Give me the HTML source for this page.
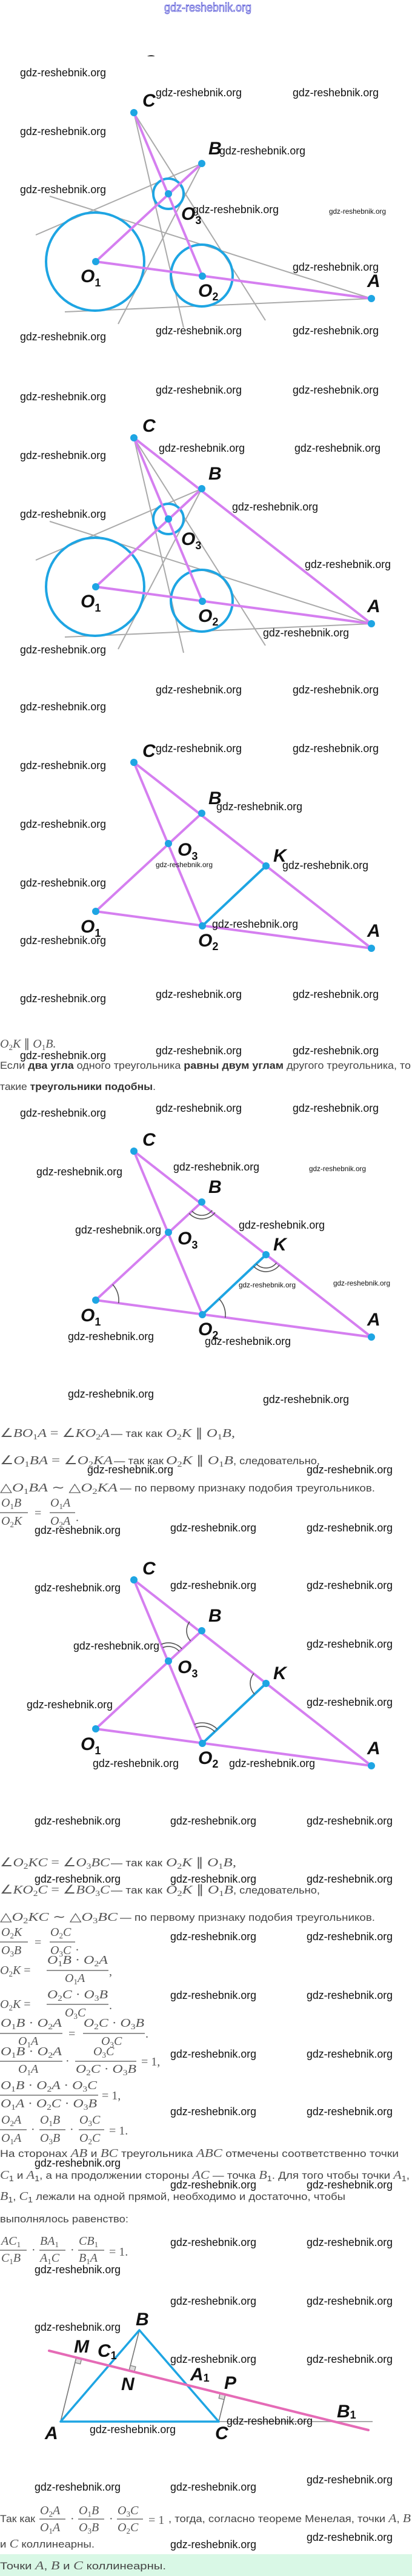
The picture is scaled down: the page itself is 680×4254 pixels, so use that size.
<!DOCTYPE html>
<html><head><meta charset="utf-8"><style>
html,body{margin:0;padding:0;background:#fff}
svg{display:block}
.w{font-family:"Liberation Sans Narrow","Liberation Sans",sans-serif;font-size:18px;fill:#111}
.ws{font-family:"Liberation Sans Narrow","Liberation Sans",sans-serif;font-size:12px;fill:#111}
.lb{font-family:"Liberation Sans Narrow","Liberation Sans",sans-serif;font-size:30px;font-weight:bold;font-style:italic;fill:#111}
.ls{font-size:18px;font-style:normal}
.m{font-family:"Liberation Serif",serif;font-style:italic;font-size:20px;fill:#555}
.mm{font-family:"Liberation Serif",serif;font-style:italic;font-size:20px;fill:#555}
.s{font-style:normal;font-size:13px}
.u{font-style:normal}
.t{font-family:"Liberation Sans",sans-serif;font-size:17px;fill:#444;font-style:normal}
.bd{font-weight:bold;fill:#333}
.g{stroke:#aaa;stroke-width:2;fill:none}
.p{stroke:#d57ff0;stroke-width:4;fill:none;stroke-linecap:round}
.c{stroke:#1ea5e3;stroke-width:4;fill:none}
.d{fill:#1ea5e3}
.a{stroke:#555;stroke-width:1.6;fill:none}
.bar{stroke:#555;stroke-width:1.2}
</style></head><body>
<svg width="680" height="4254" viewBox="0 0 680 4254" xmlns="http://www.w3.org/2000/svg">
<defs>
<clipPath id="cp"><rect x="0" y="0" width="680" height="93"/></clipPath>
<g id="pts">
<circle class="d" cx="221" cy="186" r="6"/><circle class="d" cx="333" cy="270" r="6"/><circle class="d" cx="278" cy="320" r="6"/>
<circle class="d" cx="158" cy="432" r="6"/><circle class="d" cx="334" cy="456" r="6"/><circle class="d" cx="613" cy="493" r="6"/>
</g>
<g id="gray">
<line class="g" x1="59" y1="388" x2="333" y2="270"/>
<line class="g" x1="82" y1="324" x2="613" y2="493"/>
<line class="g" x1="107" y1="515" x2="613" y2="493"/>
<line class="g" x1="221" y1="186" x2="303" y2="541"/>
<line class="g" x1="221" y1="186" x2="438" y2="529"/>
<line class="g" x1="333" y1="270" x2="195" y2="535"/>
<circle class="c" cx="157" cy="432" r="81"/>
<circle class="c" cx="333" cy="455" r="51"/>
<circle class="c" cx="278" cy="320" r="25"/>
<line class="p" x1="158" y1="432" x2="333" y2="270"/>
<line class="p" x1="221" y1="186" x2="334" y2="456"/>
<line class="p" x1="158" y1="432" x2="613" y2="493"/>
</g>
<g id="lab1">
<text class="lb" x="235" y="176">C</text>
<text class="lb" x="344" y="255">B</text>
<text class="lb" x="299" y="363">O<tspan class="ls" dy="7">3</tspan></text>
<text class="lb" x="133" y="466">O<tspan class="ls" dy="7">1</tspan></text>
<text class="lb" x="327" y="490">O<tspan class="ls" dy="6">2</tspan></text>
<text class="lb" x="606" y="474">A</text>
</g>
<g id="tri">
<line class="p" x1="221" y1="186" x2="613" y2="493"/>
<line class="p" x1="158" y1="432" x2="333" y2="270"/>
<line class="p" x1="221" y1="186" x2="334" y2="456"/>
<line class="p" x1="158" y1="432" x2="613" y2="493"/>
<line class="c" x1="334" y1="456" x2="439" y2="357"/>
<use href="#pts"/>
<circle class="d" cx="439" cy="357" r="6"/>
<text class="lb" x="235" y="177">C</text>
<text class="lb" x="344" y="255">B</text>
<text class="lb" x="293" y="340">O<tspan class="ls" dy="7">3</tspan></text>
<text class="lb" x="451" y="350">K</text>
<text class="lb" x="133" y="467">O<tspan class="ls" dy="7">1</tspan></text>
<text class="lb" x="327" y="490">O<tspan class="ls" dy="6">2</tspan></text>
<text class="lb" x="606" y="474">A</text>
</g>
</defs>
<rect width="680" height="4254" fill="#fff"/>

<text x="271" y="19" font-family="Liberation Sans Narrow, Liberation Sans, sans-serif" font-size="20" fill="#fff" stroke="#3b3bd0" stroke-width="0.8" textLength="144" lengthAdjust="spacingAndGlyphs">gdz-reshebnik.org</text>
<text class="lb" x="236" y="112" clip-path="url(#cp)">C</text>

<!-- diagram 1 -->
<use href="#gray"/><use href="#pts"/><use href="#lab1"/>
<!-- diagram 2 -->
<g transform="translate(0,537)">
<use href="#gray"/>
<line class="p" x1="221" y1="186" x2="613" y2="493"/>
<use href="#pts"/><use href="#lab1"/>
</g>
<!-- diagram 3 -->
<g transform="translate(0,1073)"><use href="#tri"/></g>
<!-- diagram 4 -->
<g transform="translate(0,1715)"><use href="#tri"/>
<path class="a" d="M350.2,283.7 A22,22 0 0 1 316.7,284.8"/>
<path class="a" d="M354.9,287.4 A28,28 0 0 1 312.3,288.8"/>
<path class="a" d="M456.3,370.5 A22,22 0 0 1 423,372.1"/>
<path class="a" d="M461.1,374.2 A28,28 0 0 1 418.6,376.2"/>
<path class="a" d="M185.9,406.2 A38,38 0 0 1 195.7,437"/>
<path class="a" d="M361.7,429.9 A38,38 0 0 1 371.7,461"/>
</g>
<!-- diagram 5 -->
<g transform="translate(0,2423)"><use href="#tri"/>
<path class="a" d="M314.5,286.8 A25,25 0 0 1 313,255"/>
<path class="a" d="M268.6,297.9 A24,24 0 0 1 295.8,303.8"/>
<path class="a" d="M266.3,292.4 A30,30 0 0 1 300.2,299.8"/>
<path class="a" d="M420.1,374.8 A26,26 0 0 1 418.9,340.5"/>
<path class="a" d="M323.3,430.1 A28,28 0 0 1 354.4,436.8"/>
<path class="a" d="M321,424.6 A34,34 0 0 1 358.7,432.7"/>
</g>

<!-- text block 1 -->
<text class="m" x="0" y="1730" font-size="22">O<tspan class="s" dy="4">2</tspan><tspan dy="-4">K </tspan><tspan class="u">∥ </tspan>O<tspan class="s" dy="4">1</tspan><tspan dy="-4">B.</tspan></text>
<text class="t" x="0" y="1765" textLength="678" lengthAdjust="spacingAndGlyphs">Если <tspan class="bd">два угла</tspan> одного треугольника <tspan class="bd">равны двум углам</tspan> другого треугольника, то</text>
<text class="t" x="0" y="1800" textLength="257" lengthAdjust="spacingAndGlyphs">такие <tspan class="bd">треугольники подобны</tspan>.</text>

<!-- text block 2 -->
<text class="m" x="0" y="2373" textLength="181" lengthAdjust="spacingAndGlyphs"><tspan class="u">∠</tspan>BO<tspan class="s" dy="4">1</tspan><tspan dy="-4">A </tspan><tspan class="u">= ∠</tspan>KO<tspan class="s" dy="4">2</tspan><tspan dy="-4">A</tspan></text>
<text class="t" x="183" y="2373" textLength="85" lengthAdjust="spacingAndGlyphs">— так как</text>
<text class="m" x="274" y="2373" textLength="114" lengthAdjust="spacingAndGlyphs">O<tspan class="s" dy="4">2</tspan><tspan dy="-4">K </tspan><tspan class="u">∥ </tspan>O<tspan class="s" dy="4">1</tspan><tspan dy="-4">B,</tspan></text>

<text class="m" x="0" y="2418" textLength="186" lengthAdjust="spacingAndGlyphs"><tspan class="u">∠</tspan>O<tspan class="s" dy="4">1</tspan><tspan dy="-4">BA </tspan><tspan class="u">= ∠</tspan>O<tspan class="s" dy="4">2</tspan><tspan dy="-4">KA</tspan></text>
<text class="t" x="188" y="2418" textLength="82" lengthAdjust="spacingAndGlyphs">— так как</text>
<text class="m" x="274" y="2418" textLength="111" lengthAdjust="spacingAndGlyphs">O<tspan class="s" dy="4">2</tspan><tspan dy="-4">K </tspan><tspan class="u">∥ </tspan>O<tspan class="s" dy="4">1</tspan><tspan dy="-4">B</tspan></text>
<text class="t" x="385" y="2418" textLength="143" lengthAdjust="spacingAndGlyphs">, следовательно,</text>

<text class="m" x="0" y="2463" textLength="194" lengthAdjust="spacingAndGlyphs"><tspan class="u">△</tspan>O<tspan class="s" dy="4">1</tspan><tspan dy="-4">BA  </tspan><tspan class="u">∼ △</tspan>O<tspan class="s" dy="4">2</tspan><tspan dy="-4">KA</tspan></text>
<text class="t" x="198" y="2463" textLength="421" lengthAdjust="spacingAndGlyphs">— по первому признаку подобия треугольников.</text>

<text class="m" x="2" y="2488">O<tspan class="s" dy="4">1</tspan><tspan dy="-4">B</tspan></text>
<line class="bar" x1="0" y1="2498" x2="46" y2="2498"/>
<text class="m" x="2" y="2518">O<tspan class="s" dy="4">2</tspan><tspan dy="-4">K</tspan></text>
<text class="m u" x="57" y="2505">=</text>
<text class="m" x="83" y="2488">O<tspan class="s" dy="4">1</tspan><tspan dy="-4">A</tspan></text>
<line class="bar" x1="82" y1="2498" x2="124" y2="2498"/>
<text class="m" x="83" y="2518">O<tspan class="s" dy="4">2</tspan><tspan dy="-4">A</tspan></text>
<text class="m u" x="125" y="2512">.</text>

<!-- text block 3 -->
<text class="m" x="0" y="3082" textLength="181" lengthAdjust="spacingAndGlyphs"><tspan class="u">∠</tspan>O<tspan class="s" dy="4">2</tspan><tspan dy="-4">KC </tspan><tspan class="u">= ∠</tspan>O<tspan class="s" dy="4">3</tspan><tspan dy="-4">BC</tspan></text>
<text class="t" x="183" y="3082" textLength="85" lengthAdjust="spacingAndGlyphs">— так как</text>
<text class="m" x="274" y="3082" textLength="116" lengthAdjust="spacingAndGlyphs">O<tspan class="s" dy="4">2</tspan><tspan dy="-4">K </tspan><tspan class="u">∥ </tspan>O<tspan class="s" dy="4">1</tspan><tspan dy="-4">B,</tspan></text>

<text class="m" x="0" y="3127" textLength="181" lengthAdjust="spacingAndGlyphs"><tspan class="u">∠</tspan>KO<tspan class="s" dy="4">2</tspan><tspan dy="-4">C </tspan><tspan class="u">= ∠</tspan>BO<tspan class="s" dy="4">3</tspan><tspan dy="-4">C</tspan></text>
<text class="t" x="183" y="3127" textLength="85" lengthAdjust="spacingAndGlyphs">— так как</text>
<text class="m" x="274" y="3127" textLength="111" lengthAdjust="spacingAndGlyphs">O<tspan class="s" dy="4">2</tspan><tspan dy="-4">K </tspan><tspan class="u">∥ </tspan>O<tspan class="s" dy="4">1</tspan><tspan dy="-4">B</tspan></text>
<text class="t" x="385" y="3127" textLength="143" lengthAdjust="spacingAndGlyphs">, следовательно,</text>

<text class="m" x="0" y="3172" textLength="194" lengthAdjust="spacingAndGlyphs"><tspan class="u">△</tspan>O<tspan class="s" dy="4">2</tspan><tspan dy="-4">KC  </tspan><tspan class="u">∼ △</tspan>O<tspan class="s" dy="4">3</tspan><tspan dy="-4">BC</tspan></text>
<text class="t" x="198" y="3172" textLength="421" lengthAdjust="spacingAndGlyphs">— по первому признаку подобия треугольников.</text>

<text class="m" x="2" y="3197">O<tspan class="s" dy="4">2</tspan><tspan dy="-4">K</tspan></text>
<line class="bar" x1="0" y1="3207" x2="46" y2="3207"/>
<text class="m" x="2" y="3227">O<tspan class="s" dy="4">3</tspan><tspan dy="-4">B</tspan></text>
<text class="m u" x="57" y="3214">=</text>
<text class="m" x="83" y="3197">O<tspan class="s" dy="4">2</tspan><tspan dy="-4">C</tspan></text>
<line class="bar" x1="82" y1="3207" x2="124" y2="3207"/>
<text class="m" x="83" y="3227">O<tspan class="s" dy="4">3</tspan><tspan dy="-4">C</tspan></text>
<text class="m u" x="125" y="3221">.</text>

<text class="m" x="0" y="3260">O<tspan class="s" dy="4">2</tspan><tspan dy="-4">K </tspan><tspan class="u">=</tspan></text>
<text class="m" x="78" y="3243" textLength="100" lengthAdjust="spacingAndGlyphs">O<tspan class="s" dy="4">1</tspan><tspan dy="-4">B </tspan><tspan class="u">· </tspan>O<tspan class="s" dy="4">2</tspan><tspan dy="-4">A</tspan></text>
<line class="bar" x1="77" y1="3254" x2="179" y2="3254"/>
<text class="m" x="107" y="3273">O<tspan class="s" dy="4">1</tspan><tspan dy="-4">A</tspan></text>
<text class="m u" x="180" y="3262">,</text>

<text class="m" x="0" y="3316">O<tspan class="s" dy="4">2</tspan><tspan dy="-4">K </tspan><tspan class="u">=</tspan></text>
<text class="m" x="78" y="3300" textLength="100" lengthAdjust="spacingAndGlyphs">O<tspan class="s" dy="4">2</tspan><tspan dy="-4">C </tspan><tspan class="u">· </tspan>O<tspan class="s" dy="4">3</tspan><tspan dy="-4">B</tspan></text>
<line class="bar" x1="77" y1="3310" x2="179" y2="3310"/>
<text class="m" x="107" y="3330">O<tspan class="s" dy="4">3</tspan><tspan dy="-4">C</tspan></text>
<text class="m u" x="180" y="3318">.</text>

<text class="m" x="1" y="3347" textLength="101" lengthAdjust="spacingAndGlyphs">O<tspan class="s" dy="4">1</tspan><tspan dy="-4">B </tspan><tspan class="u">· </tspan>O<tspan class="s" dy="4">2</tspan><tspan dy="-4">A</tspan></text>
<line class="bar" x1="0" y1="3358" x2="103" y2="3358"/>
<text class="m" x="30" y="3377">O<tspan class="s" dy="4">1</tspan><tspan dy="-4">A</tspan></text>
<text class="m u" x="113" y="3365">=</text>
<text class="m" x="138" y="3347" textLength="100" lengthAdjust="spacingAndGlyphs">O<tspan class="s" dy="4">2</tspan><tspan dy="-4">C </tspan><tspan class="u">· </tspan>O<tspan class="s" dy="4">3</tspan><tspan dy="-4">B</tspan></text>
<line class="bar" x1="137" y1="3358" x2="239" y2="3358"/>
<text class="m" x="167" y="3377">O<tspan class="s" dy="4">3</tspan><tspan dy="-4">C</tspan></text>
<text class="m u" x="240" y="3365">.</text>

<text class="m" x="1" y="3394" textLength="101" lengthAdjust="spacingAndGlyphs">O<tspan class="s" dy="4">1</tspan><tspan dy="-4">B </tspan><tspan class="u">· </tspan>O<tspan class="s" dy="4">2</tspan><tspan dy="-4">A</tspan></text>
<line class="bar" x1="0" y1="3404" x2="103" y2="3404"/>
<text class="m" x="30" y="3423">O<tspan class="s" dy="4">1</tspan><tspan dy="-4">A</tspan></text>
<text class="m u" x="108" y="3410">·</text>
<text class="m" x="154" y="3394">O<tspan class="s" dy="4">3</tspan><tspan dy="-4">C</tspan></text>
<line class="bar" x1="124" y1="3404" x2="225" y2="3404"/>
<text class="m" x="125" y="3423" textLength="100" lengthAdjust="spacingAndGlyphs">O<tspan class="s" dy="4">2</tspan><tspan dy="-4">C </tspan><tspan class="u">· </tspan>O<tspan class="s" dy="4">3</tspan><tspan dy="-4">B</tspan></text>
<text class="m u" x="233" y="3411">= 1,</text>

<text class="m" x="1" y="3450" textLength="159" lengthAdjust="spacingAndGlyphs">O<tspan class="s" dy="4">1</tspan><tspan dy="-4">B </tspan><tspan class="u">· </tspan>O<tspan class="s" dy="4">2</tspan><tspan dy="-4">A </tspan><tspan class="u">· </tspan>O<tspan class="s" dy="4">3</tspan><tspan dy="-4">C</tspan></text>
<line class="bar" x1="0" y1="3460" x2="162" y2="3460"/>
<text class="m" x="1" y="3480" textLength="159" lengthAdjust="spacingAndGlyphs">O<tspan class="s" dy="4">1</tspan><tspan dy="-4">A </tspan><tspan class="u">· </tspan>O<tspan class="s" dy="4">2</tspan><tspan dy="-4">C </tspan><tspan class="u">· </tspan>O<tspan class="s" dy="4">3</tspan><tspan dy="-4">B</tspan></text>
<text class="m u" x="168" y="3467">= 1,</text>

<text class="m" x="2" y="3507">O<tspan class="s" dy="4">2</tspan><tspan dy="-4">A</tspan></text>
<line class="bar" x1="0" y1="3517" x2="44" y2="3517"/>
<text class="m" x="2" y="3537">O<tspan class="s" dy="4">1</tspan><tspan dy="-4">A</tspan></text>
<text class="m u" x="51" y="3523">·</text>
<text class="m" x="66" y="3507">O<tspan class="s" dy="4">1</tspan><tspan dy="-4">B</tspan></text>
<line class="bar" x1="65" y1="3517" x2="108" y2="3517"/>
<text class="m" x="66" y="3537">O<tspan class="s" dy="4">3</tspan><tspan dy="-4">B</tspan></text>
<text class="m u" x="115" y="3523">·</text>
<text class="m" x="131" y="3507">O<tspan class="s" dy="4">3</tspan><tspan dy="-4">C</tspan></text>
<line class="bar" x1="130" y1="3517" x2="172" y2="3517"/>
<text class="m" x="131" y="3537">O<tspan class="s" dy="4">2</tspan><tspan dy="-4">C</tspan></text>
<text class="m u" x="180" y="3525">= 1.</text>

<!-- Menelaus text -->
<text class="t" x="0" y="3562" textLength="658" lengthAdjust="spacingAndGlyphs">На сторонах <tspan class="mm">AB</tspan> и <tspan class="mm">BC</tspan> треугольника <tspan class="mm">ABC</tspan> отмечены соответственно точки</text>
<text class="t" x="0" y="3598" textLength="676" lengthAdjust="spacingAndGlyphs"><tspan class="mm">C</tspan><tspan class="s" dy="4">1</tspan><tspan dy="-4"> и </tspan><tspan class="mm">A</tspan><tspan class="s" dy="4">1</tspan><tspan dy="-4">, а на продолжении стороны </tspan><tspan class="mm">AC</tspan> — точка <tspan class="mm">B</tspan><tspan class="s" dy="4">1</tspan><tspan dy="-4">. Для того чтобы точки </tspan><tspan class="mm">A</tspan><tspan class="s" dy="4">1</tspan><tspan dy="-4">,</tspan></text>
<text class="t" x="0" y="3633" textLength="570" lengthAdjust="spacingAndGlyphs"><tspan class="mm">B</tspan><tspan class="s" dy="4">1</tspan><tspan dy="-4">, </tspan><tspan class="mm">C</tspan><tspan class="s" dy="4">1</tspan><tspan dy="-4"> лежали на одной прямой, необходимо и достаточно, чтобы</tspan></text>
<text class="t" x="0" y="3670" textLength="212" lengthAdjust="spacingAndGlyphs">выполнялось равенство:</text>

<text class="m" x="2" y="3707">AC<tspan class="s" dy="4">1</tspan></text>
<line class="bar" x1="0" y1="3716" x2="44" y2="3716"/>
<text class="m" x="2" y="3735">C<tspan class="s" dy="4">1</tspan><tspan dy="-4">B</tspan></text>
<text class="m u" x="52" y="3722">·</text>
<text class="m" x="66" y="3707">BA<tspan class="s" dy="4">1</tspan></text>
<line class="bar" x1="65" y1="3716" x2="108" y2="3716"/>
<text class="m" x="66" y="3735">A<tspan class="s" dy="4">1</tspan><tspan dy="-4">C</tspan></text>
<text class="m u" x="116" y="3722">·</text>
<text class="m" x="130" y="3707">CB<tspan class="s" dy="4">1</tspan></text>
<line class="bar" x1="129" y1="3716" x2="172" y2="3716"/>
<text class="m" x="130" y="3735">B<tspan class="s" dy="4">1</tspan><tspan dy="-4">A</tspan></text>
<text class="m u" x="180" y="3725">= 1.</text>

<!-- Menelaus diagram -->
<line class="g" x1="361" y1="3999" x2="615" y2="3999" stroke-width="3"/>
<line x1="100" y1="3999" x2="126" y2="3893" stroke="#777" stroke-width="1.6"/>
<line x1="230" y1="3848" x2="213" y2="3915" stroke="#777" stroke-width="1.6"/>
<line x1="361" y1="3999" x2="372" y2="3954" stroke="#777" stroke-width="1.6"/>
<polygon points="126,3893 134.7,3895.2 132.6,3903.9 123.9,3901.7" fill="#ddd" stroke="#777" stroke-width="1.2"/>
<polygon points="213,3915 221.7,3917.2 223.9,3908.4 215.2,3906.3" fill="#ddd" stroke="#777" stroke-width="1.2"/>
<polygon points="372,3954 363.3,3951.8 361.2,3960.6 369.9,3962.7" fill="#ddd" stroke="#777" stroke-width="1.2"/>
<polygon points="100,3999 230,3848 361,3999" fill="none" stroke="#1ea5e3" stroke-width="3.5" stroke-linejoin="round"/>
<line x1="81" y1="3882" x2="608" y2="4013" stroke="#e56bb6" stroke-width="4" stroke-linecap="round"/>
<text class="lb" x="224" y="3840">B</text>
<text class="lb" x="122" y="3885">M</text>
<text class="lb" x="161" y="3892">C<tspan class="ls" dy="4">1</tspan></text>
<text class="lb" x="200" y="3947">N</text>
<text class="lb" x="314" y="3931">A<tspan class="ls" dy="2">1</tspan></text>
<text class="lb" x="370" y="3945">P</text>
<text class="lb" x="556" y="3992">B<tspan class="ls" dy="2">1</tspan></text>
<text class="lb" x="74" y="4028">A</text>
<text class="lb" x="355" y="4028">C</text>

<!-- conclusion -->
<text class="t" x="0" y="4165" textLength="58" lengthAdjust="spacingAndGlyphs">Так как</text>
<text class="m" x="66" y="4152">O<tspan class="s" dy="4">2</tspan><tspan dy="-4">A</tspan></text>
<line class="bar" x1="65" y1="4160" x2="108" y2="4160"/>
<text class="m" x="66" y="4180">O<tspan class="s" dy="4">1</tspan><tspan dy="-4">A</tspan></text>
<text class="m u" x="116" y="4166">·</text>
<text class="m" x="130" y="4152">O<tspan class="s" dy="4">1</tspan><tspan dy="-4">B</tspan></text>
<line class="bar" x1="129" y1="4160" x2="172" y2="4160"/>
<text class="m" x="130" y="4180">O<tspan class="s" dy="4">3</tspan><tspan dy="-4">B</tspan></text>
<text class="m u" x="180" y="4166">·</text>
<text class="m" x="194" y="4152">O<tspan class="s" dy="4">3</tspan><tspan dy="-4">C</tspan></text>
<line class="bar" x1="193" y1="4160" x2="236" y2="4160"/>
<text class="m" x="194" y="4180">O<tspan class="s" dy="4">2</tspan><tspan dy="-4">C</tspan></text>
<text class="m u" x="245" y="4168">= 1</text>
<text class="t" x="278" y="4165" textLength="400" lengthAdjust="spacingAndGlyphs">, тогда, согласно теореме Менелая, точки <tspan class="mm">A</tspan>, <tspan class="mm">B</tspan></text>
<text class="t" x="0" y="4207" textLength="156" lengthAdjust="spacingAndGlyphs">и <tspan class="mm">C</tspan> коллинеарны.</text>
<rect x="0" y="4218" width="680" height="36" fill="#d9f8e6"/>
<text class="t" x="0" y="4243" textLength="274" lengthAdjust="spacingAndGlyphs">Точки <tspan class="mm">A</tspan>, <tspan class="mm">B</tspan> и <tspan class="mm">C</tspan> коллинеарны.</text>

<!-- watermarks -->
<g>
<text class="w" x="33" y="126" textLength="142" lengthAdjust="spacingAndGlyphs">gdz-reshebnik.org</text>
<text class="w" x="257" y="159" textLength="142" lengthAdjust="spacingAndGlyphs">gdz-reshebnik.org</text>
<text class="w" x="483" y="159" textLength="142" lengthAdjust="spacingAndGlyphs">gdz-reshebnik.org</text>
<text class="w" x="33" y="223" textLength="142" lengthAdjust="spacingAndGlyphs">gdz-reshebnik.org</text>
<text class="w" x="362" y="255" textLength="142" lengthAdjust="spacingAndGlyphs">gdz-reshebnik.org</text>
<text class="w" x="33" y="319" textLength="142" lengthAdjust="spacingAndGlyphs">gdz-reshebnik.org</text>
<text class="w" x="318" y="352" textLength="142" lengthAdjust="spacingAndGlyphs">gdz-reshebnik.org</text>
<text class="ws" x="543" y="353" textLength="94" lengthAdjust="spacingAndGlyphs">gdz-reshebnik.org</text>
<text class="w" x="483" y="447" textLength="142" lengthAdjust="spacingAndGlyphs">gdz-reshebnik.org</text>
<text class="w" x="257" y="552" textLength="142" lengthAdjust="spacingAndGlyphs">gdz-reshebnik.org</text>
<text class="w" x="483" y="552" textLength="142" lengthAdjust="spacingAndGlyphs">gdz-reshebnik.org</text>
<text class="w" x="33" y="562" textLength="142" lengthAdjust="spacingAndGlyphs">gdz-reshebnik.org</text>
<text class="w" x="257" y="650" textLength="142" lengthAdjust="spacingAndGlyphs">gdz-reshebnik.org</text>
<text class="w" x="483" y="650" textLength="142" lengthAdjust="spacingAndGlyphs">gdz-reshebnik.org</text>
<text class="w" x="33" y="661" textLength="142" lengthAdjust="spacingAndGlyphs">gdz-reshebnik.org</text>
<text class="w" x="262" y="746" textLength="142" lengthAdjust="spacingAndGlyphs">gdz-reshebnik.org</text>
<text class="w" x="486" y="746" textLength="142" lengthAdjust="spacingAndGlyphs">gdz-reshebnik.org</text>
<text class="w" x="33" y="758" textLength="142" lengthAdjust="spacingAndGlyphs">gdz-reshebnik.org</text>
<text class="w" x="383" y="843" textLength="142" lengthAdjust="spacingAndGlyphs">gdz-reshebnik.org</text>
<text class="w" x="33" y="855" textLength="142" lengthAdjust="spacingAndGlyphs">gdz-reshebnik.org</text>
<text class="w" x="503" y="938" textLength="142" lengthAdjust="spacingAndGlyphs">gdz-reshebnik.org</text>
<text class="w" x="434" y="1051" textLength="142" lengthAdjust="spacingAndGlyphs">gdz-reshebnik.org</text>
<text class="w" x="33" y="1079" textLength="142" lengthAdjust="spacingAndGlyphs">gdz-reshebnik.org</text>
<text class="w" x="257" y="1145" textLength="142" lengthAdjust="spacingAndGlyphs">gdz-reshebnik.org</text>
<text class="w" x="483" y="1145" textLength="142" lengthAdjust="spacingAndGlyphs">gdz-reshebnik.org</text>
<text class="w" x="33" y="1173" textLength="142" lengthAdjust="spacingAndGlyphs">gdz-reshebnik.org</text>
<text class="w" x="257" y="1242" textLength="142" lengthAdjust="spacingAndGlyphs">gdz-reshebnik.org</text>
<text class="w" x="483" y="1242" textLength="142" lengthAdjust="spacingAndGlyphs">gdz-reshebnik.org</text>
<text class="w" x="33" y="1270" textLength="142" lengthAdjust="spacingAndGlyphs">gdz-reshebnik.org</text>
<text class="w" x="357" y="1338" textLength="142" lengthAdjust="spacingAndGlyphs">gdz-reshebnik.org</text>
<text class="w" x="33" y="1367" textLength="142" lengthAdjust="spacingAndGlyphs">gdz-reshebnik.org</text>
<text class="ws" x="257" y="1432" textLength="94" lengthAdjust="spacingAndGlyphs">gdz-reshebnik.org</text>
<text class="w" x="466" y="1435" textLength="142" lengthAdjust="spacingAndGlyphs">gdz-reshebnik.org</text>
<text class="w" x="33" y="1464" textLength="142" lengthAdjust="spacingAndGlyphs">gdz-reshebnik.org</text>
<text class="w" x="350" y="1532" textLength="142" lengthAdjust="spacingAndGlyphs">gdz-reshebnik.org</text>
<text class="w" x="33" y="1559" textLength="142" lengthAdjust="spacingAndGlyphs">gdz-reshebnik.org</text>
<text class="w" x="257" y="1648" textLength="142" lengthAdjust="spacingAndGlyphs">gdz-reshebnik.org</text>
<text class="w" x="483" y="1648" textLength="142" lengthAdjust="spacingAndGlyphs">gdz-reshebnik.org</text>
<text class="w" x="33" y="1655" textLength="142" lengthAdjust="spacingAndGlyphs">gdz-reshebnik.org</text>
<text class="w" x="257" y="1741" textLength="142" lengthAdjust="spacingAndGlyphs">gdz-reshebnik.org</text>
<text class="w" x="483" y="1741" textLength="142" lengthAdjust="spacingAndGlyphs">gdz-reshebnik.org</text>
<text class="w" x="33" y="1749" textLength="142" lengthAdjust="spacingAndGlyphs">gdz-reshebnik.org</text>
<text class="w" x="33" y="1844" textLength="142" lengthAdjust="spacingAndGlyphs">gdz-reshebnik.org</text>
<text class="w" x="257" y="1836" textLength="142" lengthAdjust="spacingAndGlyphs">gdz-reshebnik.org</text>
<text class="w" x="483" y="1836" textLength="142" lengthAdjust="spacingAndGlyphs">gdz-reshebnik.org</text>
<text class="w" x="60" y="1941" textLength="142" lengthAdjust="spacingAndGlyphs">gdz-reshebnik.org</text>
<text class="w" x="286" y="1933" textLength="142" lengthAdjust="spacingAndGlyphs">gdz-reshebnik.org</text>
<text class="ws" x="510" y="1934" textLength="94" lengthAdjust="spacingAndGlyphs">gdz-reshebnik.org</text>
<text class="w" x="124" y="2037" textLength="142" lengthAdjust="spacingAndGlyphs">gdz-reshebnik.org</text>
<text class="w" x="394" y="2029" textLength="142" lengthAdjust="spacingAndGlyphs">gdz-reshebnik.org</text>
<text class="ws" x="394" y="2126" textLength="94" lengthAdjust="spacingAndGlyphs">gdz-reshebnik.org</text>
<text class="ws" x="550" y="2123" textLength="94" lengthAdjust="spacingAndGlyphs">gdz-reshebnik.org</text>
<text class="w" x="112" y="2213" textLength="142" lengthAdjust="spacingAndGlyphs">gdz-reshebnik.org</text>
<text class="w" x="338" y="2221" textLength="142" lengthAdjust="spacingAndGlyphs">gdz-reshebnik.org</text>
<text class="w" x="112" y="2308" textLength="142" lengthAdjust="spacingAndGlyphs">gdz-reshebnik.org</text>
<text class="w" x="434" y="2317" textLength="142" lengthAdjust="spacingAndGlyphs">gdz-reshebnik.org</text>
<text class="w" x="144" y="2433" textLength="142" lengthAdjust="spacingAndGlyphs">gdz-reshebnik.org</text>
<text class="w" x="506" y="2433" textLength="142" lengthAdjust="spacingAndGlyphs">gdz-reshebnik.org</text>
<text class="w" x="57" y="2533" textLength="142" lengthAdjust="spacingAndGlyphs">gdz-reshebnik.org</text>
<text class="w" x="281" y="2529" textLength="142" lengthAdjust="spacingAndGlyphs">gdz-reshebnik.org</text>
<text class="w" x="506" y="2529" textLength="142" lengthAdjust="spacingAndGlyphs">gdz-reshebnik.org</text>
<text class="w" x="57" y="2628" textLength="142" lengthAdjust="spacingAndGlyphs">gdz-reshebnik.org</text>
<text class="w" x="281" y="2624" textLength="142" lengthAdjust="spacingAndGlyphs">gdz-reshebnik.org</text>
<text class="w" x="506" y="2624" textLength="142" lengthAdjust="spacingAndGlyphs">gdz-reshebnik.org</text>
<text class="w" x="121" y="2724" textLength="142" lengthAdjust="spacingAndGlyphs">gdz-reshebnik.org</text>
<text class="w" x="506" y="2721" textLength="142" lengthAdjust="spacingAndGlyphs">gdz-reshebnik.org</text>
<text class="w" x="44" y="2821" textLength="142" lengthAdjust="spacingAndGlyphs">gdz-reshebnik.org</text>
<text class="w" x="506" y="2817" textLength="142" lengthAdjust="spacingAndGlyphs">gdz-reshebnik.org</text>
<text class="w" x="153" y="2918" textLength="142" lengthAdjust="spacingAndGlyphs">gdz-reshebnik.org</text>
<text class="w" x="378" y="2918" textLength="142" lengthAdjust="spacingAndGlyphs">gdz-reshebnik.org</text>
<text class="w" x="57" y="3013" textLength="142" lengthAdjust="spacingAndGlyphs">gdz-reshebnik.org</text>
<text class="w" x="281" y="3013" textLength="142" lengthAdjust="spacingAndGlyphs">gdz-reshebnik.org</text>
<text class="w" x="506" y="3013" textLength="142" lengthAdjust="spacingAndGlyphs">gdz-reshebnik.org</text>
<text class="w" x="57" y="3109" textLength="142" lengthAdjust="spacingAndGlyphs">gdz-reshebnik.org</text>
<text class="w" x="281" y="3109" textLength="142" lengthAdjust="spacingAndGlyphs">gdz-reshebnik.org</text>
<text class="w" x="506" y="3109" textLength="142" lengthAdjust="spacingAndGlyphs">gdz-reshebnik.org</text>
<text class="w" x="281" y="3204" textLength="142" lengthAdjust="spacingAndGlyphs">gdz-reshebnik.org</text>
<text class="w" x="506" y="3204" textLength="142" lengthAdjust="spacingAndGlyphs">gdz-reshebnik.org</text>
<text class="w" x="281" y="3301" textLength="142" lengthAdjust="spacingAndGlyphs">gdz-reshebnik.org</text>
<text class="w" x="506" y="3301" textLength="142" lengthAdjust="spacingAndGlyphs">gdz-reshebnik.org</text>
<text class="w" x="281" y="3398" textLength="142" lengthAdjust="spacingAndGlyphs">gdz-reshebnik.org</text>
<text class="w" x="506" y="3398" textLength="142" lengthAdjust="spacingAndGlyphs">gdz-reshebnik.org</text>
<text class="w" x="281" y="3493" textLength="142" lengthAdjust="spacingAndGlyphs">gdz-reshebnik.org</text>
<text class="w" x="506" y="3493" textLength="142" lengthAdjust="spacingAndGlyphs">gdz-reshebnik.org</text>
<text class="w" x="57" y="3578" textLength="142" lengthAdjust="spacingAndGlyphs">gdz-reshebnik.org</text>
<text class="w" x="281" y="3614" textLength="142" lengthAdjust="spacingAndGlyphs">gdz-reshebnik.org</text>
<text class="w" x="506" y="3614" textLength="142" lengthAdjust="spacingAndGlyphs">gdz-reshebnik.org</text>
<text class="w" x="281" y="3709" textLength="142" lengthAdjust="spacingAndGlyphs">gdz-reshebnik.org</text>
<text class="w" x="506" y="3709" textLength="142" lengthAdjust="spacingAndGlyphs">gdz-reshebnik.org</text>
<text class="w" x="57" y="3754" textLength="142" lengthAdjust="spacingAndGlyphs">gdz-reshebnik.org</text>
<text class="w" x="281" y="3806" textLength="142" lengthAdjust="spacingAndGlyphs">gdz-reshebnik.org</text>
<text class="w" x="506" y="3806" textLength="142" lengthAdjust="spacingAndGlyphs">gdz-reshebnik.org</text>
<text class="w" x="57" y="3849" textLength="142" lengthAdjust="spacingAndGlyphs">gdz-reshebnik.org</text>
<text class="w" x="281" y="3902" textLength="142" lengthAdjust="spacingAndGlyphs">gdz-reshebnik.org</text>
<text class="w" x="506" y="3902" textLength="142" lengthAdjust="spacingAndGlyphs">gdz-reshebnik.org</text>
<text class="w" x="374" y="4004" textLength="142" lengthAdjust="spacingAndGlyphs">gdz-reshebnik.org</text>
<text class="w" x="148" y="4018" textLength="142" lengthAdjust="spacingAndGlyphs">gdz-reshebnik.org</text>
<text class="w" x="506" y="4101" textLength="142" lengthAdjust="spacingAndGlyphs">gdz-reshebnik.org</text>
<text class="w" x="57" y="4113" textLength="142" lengthAdjust="spacingAndGlyphs">gdz-reshebnik.org</text>
<text class="w" x="281" y="4113" textLength="142" lengthAdjust="spacingAndGlyphs">gdz-reshebnik.org</text>
<text class="w" x="506" y="4196" textLength="142" lengthAdjust="spacingAndGlyphs">gdz-reshebnik.org</text>
<text class="w" x="281" y="4208" textLength="142" lengthAdjust="spacingAndGlyphs">gdz-reshebnik.org</text>
</g>
</svg>
</body></html>
